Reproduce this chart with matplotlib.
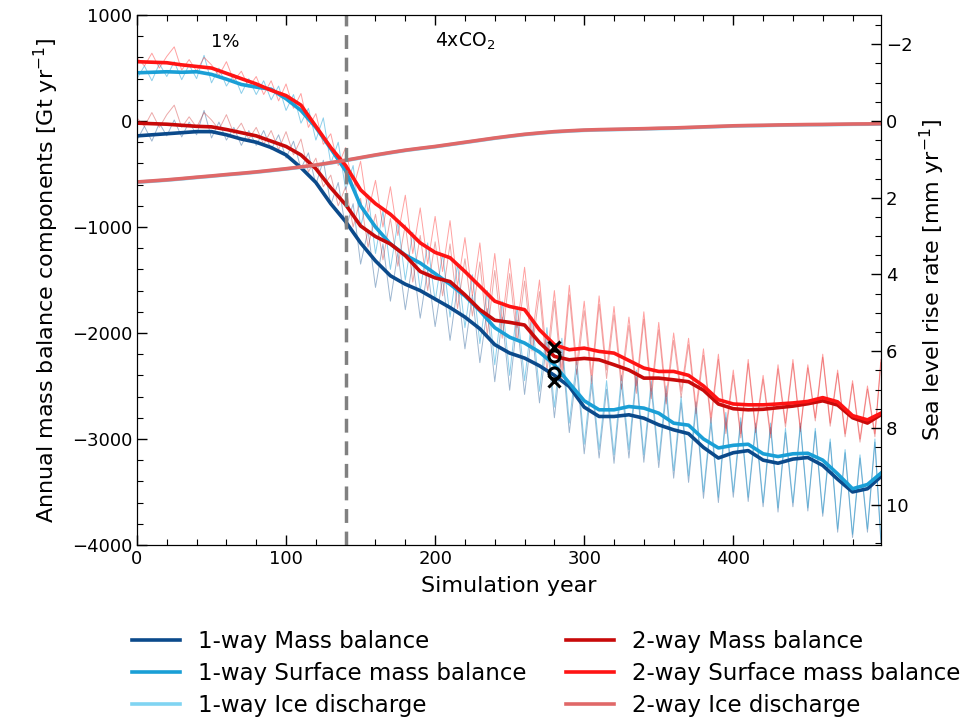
import numpy as np
import matplotlib
matplotlib.use("Agg")
import matplotlib.pyplot as plt
from matplotlib.ticker import MultipleLocator

# smoothed series, every 10 years (last point year 499)
years = list(range(0, 500, 10)) + [499]

mb_1way = [-140, -130, -120, -110, -100, -100, -130, -170, -200, -250,
           -320, -440, -580, -780, -950, -1150, -1320, -1460, -1540, -1600,
           -1680, -1760, -1850, -1960, -2110, -2190, -2237, -2310, -2400, -2505,
           -2700, -2788, -2788, -2772, -2804, -2867, -2914, -2950, -3080, -3180,
           -3130, -3110, -3200, -3229, -3190, -3175, -3250, -3380, -3500, -3470, -3355]
smb_1way = [455, 460, 465, 460, 465, 440, 395, 345, 320, 300,
            210, 100, -60, -260, -470, -800, -1000, -1160, -1265, -1340,
            -1440, -1540, -1650, -1790, -1950, -2040, -2095, -2180, -2300, -2473,
            -2640, -2725, -2725, -2694, -2709, -2757, -2851, -2870, -3000, -3085,
            -3060, -3050, -3140, -3166, -3140, -3135, -3200, -3330, -3470, -3430, -3323]
mb_2way = [-20, -25, -30, -40, -50, -55, -80, -110, -140, -190,
           -240, -320, -450, -630, -790, -990, -1090, -1160, -1270, -1420,
           -1480, -1515, -1640, -1780, -1880, -1900, -1925, -2090, -2221, -2253,
           -2240, -2253, -2300, -2350, -2426, -2426, -2442, -2460, -2540, -2670,
           -2715, -2725, -2720, -2705, -2690, -2668, -2640, -2680, -2800, -2850, -2772]
smb_2way = [560, 555, 550, 530, 515, 500, 450, 400, 350, 290,
            240, 150, -50, -250, -420, -650, -780, -880, -1010, -1150,
            -1240, -1290, -1420, -1560, -1700, -1750, -1780, -1970, -2110, -2158,
            -2143, -2174, -2190, -2260, -2331, -2363, -2363, -2400, -2500, -2630,
            -2670, -2678, -2678, -2670, -2660, -2646, -2610, -2650, -2780, -2820, -2757]
id_1way = [-578, -568, -558, -546, -533, -521, -508, -496, -483, -468,
           -453, -436, -418, -396, -373, -348, -323, -300, -278, -260,
           -243, -223, -203, -183, -163, -145, -128, -115, -103, -95,
           -88, -84, -81, -78, -75, -71, -68, -63, -58, -53,
           -48, -45, -43, -40, -38, -36, -35, -33, -31, -30, -28]
id_2way = [-575, -565, -555, -543, -530, -518, -505, -493, -480, -465,
           -450, -433, -415, -393, -370, -345, -320, -297, -275, -257,
           -240, -220, -200, -180, -160, -142, -125, -112, -100, -92,
           -85, -81, -78, -75, -72, -68, -65, -60, -55, -50,
           -45, -42, -40, -37, -35, -33, -32, -30, -28, -27, -25]

# annual-ish values, every 5 years (last point year 499)
years_raw = list(range(0, 500, 5)) + [499]

smb_2way_raw = [600, 520, 640, 500, 610, 700, 480, 580, 470, 600,
                530, 430, 560, 380, 470, 320, 420, 250, 380, 190,
                350, 120, 260, -60, 70, -220, -120, -420, -250, -640,
                -380, -860, -560, -1000, -620, -1080, -700, -1250, -820, -1350,
                -900, -1420, -940, -1560, -1100, -1650, -1150, -1850, -1250, -1900,
                -1300, -1950, -1380, -2050, -1500, -2250, -1600, -2350, -1550, -2300,
                -1700, -2400, -1650, -2350, -1750, -2450, -1850, -2500, -1800, -2550,
                -1900, -2600, -2000, -2550, -2050, -2700, -2150, -2800, -2200, -2900,
                -2350, -2950, -2250, -2900, -2400, -2950, -2300, -2850, -2250, -2900,
                -2300, -2800, -2200, -2850, -2350, -2950, -2450, -3000, -2500, -2950, -2250]
mb_2way_raw = [30, -50, 80, -60, 60, 150, -60, 40, -60, 80,
               10, -80, 60, -120, -20, -170, -60, -220, -90, -270,
               -100, -320, -170, -480, -350, -620, -510, -800, -620, -1000,
               -730, -1190, -880, -1310, -920, -1370, -980, -1520, -1080, -1600,
               -1140, -1650, -1160, -1770, -1300, -1840, -1330, -2020, -1410, -2050,
               -1440, -2080, -1510, -2170, -1610, -2360, -1700, -2450, -1640, -2390,
               -1790, -2480, -1730, -2430, -1830, -2530, -1930, -2570, -1870, -2620,
               -1970, -2670, -2070, -2610, -2110, -2760, -2210, -2850, -2250, -2950,
               -2400, -2990, -2290, -2940, -2440, -2990, -2340, -2890, -2290, -2930,
               -2330, -2830, -2230, -2880, -2380, -2980, -2480, -3030, -2530, -2980, -2280]
smb_1way_raw = [400, 520, 380, 540, 420, 560, 390, 530, 400, 620,
                360, 500, 330, 440, 260, 400, 250, 380, 200, 330,
                100, 250, -20, 120, -180, 30, -400, -200, -650, -420,
                -1000, -700, -1250, -850, -1400, -950, -1500, -1050, -1600, -1150,
                -1700, -1250, -1850, -1350, -1950, -1450, -2100, -1600, -2300, -1700,
                -2400, -1750, -2450, -1850, -2550, -1950, -2700, -2050, -2850, -2250,
                -3050, -2400, -3100, -2450, -3150, -2400, -3100, -2350, -3150, -2450,
                -3200, -2500, -3300, -2600, -3350, -2650, -3500, -2800, -3550, -2750,
                -3500, -2800, -3550, -2850, -3600, -2850, -3650, -2900, -3600, -2850,
                -3650, -2900, -3700, -3000, -3850, -3100, -3900, -3150, -3850, -3000, -3950]
mb_1way_raw = [-180, -50, -190, -20, -140, 10, -150, -10, -130, 100,
               -160, -10, -180, -60, -230, -90, -230, -90, -270, -130,
               -350, -190, -450, -300, -600, -370, -790, -580, -1020, -780,
               -1350, -1030, -1570, -1160, -1700, -1240, -1780, -1320, -1860, -1400,
               -1940, -1480, -2070, -1560, -2150, -1640, -2280, -1770, -2460, -1850,
               -2540, -1880, -2580, -1970, -2660, -2060, -2800, -2150, -2940, -2340,
               -3140, -2480, -3180, -2530, -3230, -2480, -3180, -2420, -3220, -2520,
               -3270, -2570, -3370, -2660, -3410, -2710, -3560, -2850, -3600, -2800,
               -3550, -2840, -3590, -2890, -3640, -2890, -3690, -2940, -3640, -2880,
               -3680, -2930, -3730, -3030, -3880, -3130, -3930, -3180, -3880, -3030, -3980]

# points marked at year 280
mark_year = 280
mark_x_vals = [-2130, -2450]
mark_o_vals = [-2220, -2375]

GT_PER_MM = 362.0

c_mb1 = '#0b4a8b'
c_smb1 = '#1a9fd6'
c_id1 = '#80d4f2'
c_mb2 = '#c80a0a'
c_smb2 = '#ff1414'
c_id2 = '#e06868'

fig = plt.figure(figsize=(9.68, 7.17), dpi=100)
ax = fig.add_axes([0.1415, 0.240, 0.7685, 0.739])

# thin annual lines
ax.plot(years_raw, mb_1way_raw, color=c_mb1, lw=0.7, alpha=0.4)
ax.plot(years_raw, smb_1way_raw, color=c_smb1, lw=0.7, alpha=0.5)
ax.plot(years_raw, mb_2way_raw, color=c_mb2, lw=0.7, alpha=0.35)
ax.plot(years_raw, smb_2way_raw, color=c_smb2, lw=0.7, alpha=0.4)

# smoothed lines
ax.plot(years, mb_1way, color=c_mb1, lw=2.6, label='1-way Mass balance')
ax.plot(years, smb_1way, color=c_smb1, lw=2.6, label='1-way Surface mass balance')
ax.plot(years, id_1way, color=c_id1, lw=2.6, label='1-way Ice discharge')
ax.plot(years, mb_2way, color=c_mb2, lw=2.6, label='2-way Mass balance')
ax.plot(years, smb_2way, color=c_smb2, lw=2.6, label='2-way Surface mass balance')
ax.plot(years, id_2way, color=c_id2, lw=2.6, label='2-way Ice discharge')

ax.plot([mark_year] * len(mark_x_vals), mark_x_vals, 'x', color='black',
        ms=9, mew=2.2, ls='none')
ax.plot([mark_year] * len(mark_o_vals), mark_o_vals, 'o', color='black',
        mfc='none', ms=8, mew=2.2, ls='none')

ax.axvline(140, color='gray', lw=2.5, ls=(0, (4, 2.5)))

ax.text(59, 750, '1%', fontsize=13, ha='center', va='center')
ax.text(220, 750, r'4xCO$_2$', fontsize=13.5, ha='center', va='center')

ax.set_xlim(0, 499)
ax.set_ylim(-4000, 1000)
ax.xaxis.set_major_locator(MultipleLocator(100))
ax.xaxis.set_minor_locator(MultipleLocator(20))
ax.yaxis.set_major_locator(MultipleLocator(1000))
ax.yaxis.set_minor_locator(MultipleLocator(200))
ax.tick_params(which='both', direction='in', top=True, right=False, labelsize=13)
ax.tick_params(which='major', length=7, width=1)
ax.tick_params(which='minor', length=4, width=0.8)
ax.set_xlabel('Simulation year', fontsize=16, labelpad=6)
ax.set_ylabel(r'Annual mass balance components [Gt yr$^{-1}$]', fontsize=16,
              labelpad=8)

ax2 = ax.twinx()
ax2.set_ylim(4000 / GT_PER_MM, -1000 / GT_PER_MM)
ax2.yaxis.set_major_locator(MultipleLocator(2))
ax2.yaxis.set_minor_locator(MultipleLocator(0.5))
ax2.tick_params(which='both', direction='in', labelsize=13)
ax2.tick_params(which='major', length=7, width=1)
ax2.tick_params(which='minor', length=4, width=0.8)
ax2.set_ylabel(r'Sea level rise rate [mm yr$^{-1}$]', fontsize=16)

handles, labels = ax.get_legend_handles_labels()
fig.legend(handles, labels, loc='upper left', bbox_to_anchor=(0.136, 0.122),
           ncol=2, frameon=False, fontsize=16.5, handlelength=2.1,
           handletextpad=0.8, columnspacing=1.7, labelspacing=0.4,
           borderpad=0, borderaxespad=0)

fig.savefig('out.png', dpi=100)
